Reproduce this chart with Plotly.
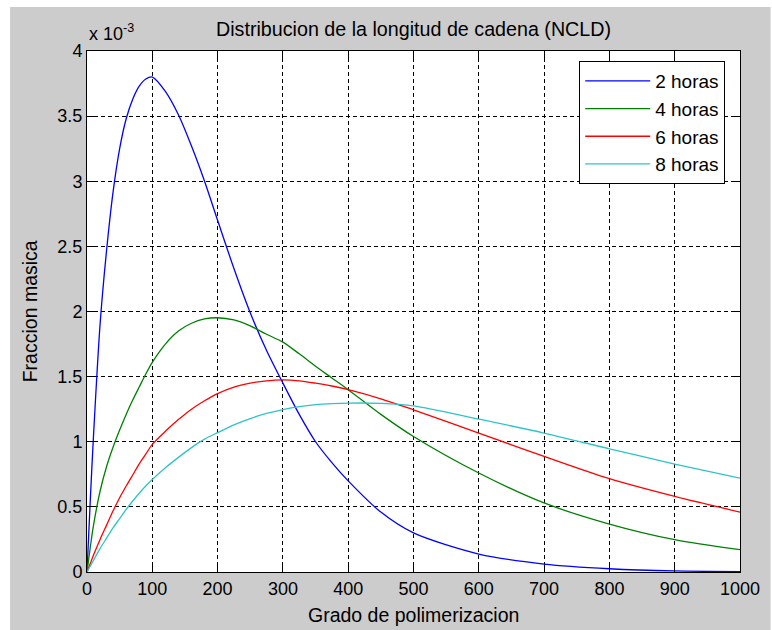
import plotly.graph_objects as go

# Grado de polimerizacion (x) and Fraccion masica (units of 1e-3)
x_vals = [0, 5, 10, 20, 30, 40, 50, 60, 70, 80, 90, 100, 120, 140, 160, 180, 200,
          225, 250, 275, 300, 325, 350, 375, 400, 450, 500, 600, 700, 800, 900, 1000]

h2 = [0, 0.55, 1.05, 1.90, 2.47, 2.92, 3.25, 3.48, 3.63, 3.73, 3.785, 3.80, 3.69, 3.51,
      3.27, 3.00, 2.70, 2.33, 1.99, 1.70, 1.45, 1.21, 1.00, 0.84, 0.70, 0.46, 0.30, 0.138,
      0.061, 0.025, 0.008, 0.003]
h4 = [0, 0.19, 0.36, 0.62, 0.81, 0.96, 1.09, 1.21, 1.32, 1.42, 1.52, 1.61, 1.75, 1.85,
      1.91, 1.943, 1.952, 1.935, 1.89, 1.825, 1.765, 1.675, 1.58, 1.49, 1.40, 1.21, 1.04,
      0.76, 0.53, 0.368, 0.248, 0.171]
h6 = [0, 0.065, 0.13, 0.25, 0.36, 0.47, 0.57, 0.66, 0.745, 0.83, 0.905, 0.98, 1.08, 1.17,
      1.25, 1.315, 1.37, 1.42, 1.45, 1.468, 1.475, 1.468, 1.45, 1.428, 1.40, 1.33, 1.245,
      1.067, 0.887, 0.716, 0.58, 0.46]
h8 = [0, 0.045, 0.09, 0.18, 0.26, 0.34, 0.41, 0.48, 0.545, 0.605, 0.66, 0.71, 0.80, 0.88,
      0.955, 1.02, 1.07, 1.13, 1.178, 1.217, 1.247, 1.27, 1.285, 1.293, 1.297, 1.295, 1.276,
      1.174, 1.067, 0.946, 0.829, 0.72]

series_names = ["2 horas", "4 horas", "6 horas", "8 horas"]
series_vals = [h2, h4, h6, h8]
series_colors = ["#0000FF", "#008000", "#FF0000", "#2EC4C4"]

x_ticks = [0, 100, 200, 300, 400, 500, 600, 700, 800, 900, 1000]
y_ticks = [0, 0.5, 1, 1.5, 2, 2.5, 3, 3.5, 4]
y_ticklabels = ["0", "0.5", "1", "1.5", "2", "2.5", "3", "3.5", "4"]

FONT = "Liberation Sans, Arial, sans-serif"

fig = go.Figure()
for name, vals, col in zip(series_names, series_vals, series_colors):
    fig.add_trace(go.Scatter(x=x_vals, y=vals, mode="lines", name=name,
                             line=dict(color=col, width=1.3, shape="spline", smoothing=0.8)))

W, H = 772, 630
L, R, T, B = 87, 23, 51, 58
pw, ph = W - L - R, H - T - B

def px2paper_x(px):
    return (px - L) / pw

def px2paper_y(py):
    return (H - B - py) / ph

axis_common = dict(showline=True, linecolor="black", linewidth=1, mirror="ticks",
                   ticks="inside", ticklen=7, tickcolor="black",
                   showgrid=True, gridcolor="black", gridwidth=1, griddash="4px,3px",
                   zeroline=False, tickfont=dict(family=FONT, size=18, color="black"))

fig.update_layout(
    width=W, height=H,
    margin=dict(l=L, r=R, t=T, b=B),
    paper_bgcolor="white", plot_bgcolor="white",
    showlegend=True,
    legend=dict(x=px2paper_x(734), y=px2paper_y(61), xanchor="right", yanchor="top",
                bgcolor="white", bordercolor="black", borderwidth=1,
                font=dict(family=FONT, size=19, color="black"),
                tracegroupgap=0, itemwidth=65),
    xaxis=dict(range=[0, 1000], tickvals=x_ticks, **axis_common),
    yaxis=dict(range=[0, 4], tickvals=y_ticks, ticktext=y_ticklabels, **axis_common),
    shapes=[
        dict(type="rect", xref="paper", yref="paper", layer="below",
             x0=px2paper_x(9), x1=px2paper_x(780), y0=px2paper_y(640), y1=px2paper_y(7),
             fillcolor="#CCCCCC", line=dict(width=0)),
        dict(type="rect", xref="paper", yref="paper", layer="below",
             x0=0, x1=1, y0=0, y1=1, fillcolor="white", line=dict(width=0)),
    ],
    annotations=[
        dict(text="Distribucion de la longitud de cadena (NCLD)", xref="paper", yref="paper",
             x=0.5, y=px2paper_y(29), xanchor="center", yanchor="middle", showarrow=False,
             font=dict(family=FONT, size=19.7, color="black")),
        dict(text="Grado de polimerizacion", xref="paper", yref="paper",
             x=0.5, y=px2paper_y(615), xanchor="center", yanchor="middle", showarrow=False,
             font=dict(family=FONT, size=19.5, color="black")),
        dict(text="Fraccion masica", xref="paper", yref="paper", textangle=-90,
             x=px2paper_x(29), y=0.5, xanchor="center", yanchor="middle", showarrow=False,
             font=dict(family=FONT, size=19.5, color="black")),
        dict(text="x 10<sup>-3</sup>", xref="paper", yref="paper",
             x=px2paper_x(87), y=px2paper_y(32), xanchor="left", yanchor="middle",
             showarrow=False, font=dict(family=FONT, size=18, color="black")),
    ],
)

fig.write_html("out.html")
